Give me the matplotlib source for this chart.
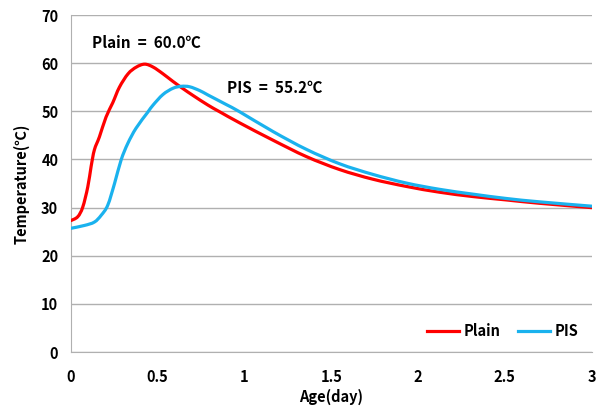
import numpy as np
import matplotlib.pyplot as plt
from matplotlib.path import Path
from matplotlib.patches import PathPatch

plt.rcParams['font.family'] = ['Noto Sans CJK KR', 'DejaVu Sans']
plt.rcParams['font.weight'] = 'bold'

# Plain concrete temperature history
plain_age = [0.0, 0.04, 0.069, 0.098, 0.117, 0.136, 0.165, 0.203, 0.242, 0.28,
             0.33, 0.378, 0.426, 0.474, 0.531, 0.589, 0.647, 0.704, 0.79, 0.858,
             0.973, 1.165, 1.357, 1.549, 1.74, 1.933, 2.124, 2.316, 2.508,
             2.70, 3.0]
plain_temp = [27.3, 28.1, 30.1, 34.3, 38.5, 42.0, 44.7, 48.8, 51.8, 55.0,
              57.8, 59.2, 59.8, 59.2, 57.8, 56.2, 54.7, 53.3, 51.3, 49.9,
              47.6, 44.0, 40.6, 37.9, 35.9, 34.4, 33.2, 32.3, 31.6,
              30.9, 30.0]

# PIS temperature history
pis_age = [0.0, 0.079, 0.136, 0.175, 0.213, 0.252, 0.29, 0.328, 0.376, 0.443,
           0.474, 0.531, 0.589, 0.637, 0.685, 0.743, 0.79, 0.896, 0.973,
           1.165, 1.357, 1.549, 1.74, 1.933, 2.124, 2.316, 2.508, 2.70, 3.0]
pis_temp = [25.7, 26.3, 27.0, 28.4, 30.5, 35.0, 39.9, 43.3, 46.5, 49.8,
            51.3, 53.5, 54.8, 55.2, 55.1, 54.3, 53.4, 51.4, 49.9,
            45.8, 42.1, 39.1, 36.9, 35.1, 33.8, 32.8, 31.9, 31.2, 30.3]

x_ticks = [0, 0.5, 1, 1.5, 2, 2.5, 3]
x_labels = ['0', '0.5', '1', '1.5', '2', '2.5', '3']
y_ticks = [0, 10, 20, 30, 40, 50, 60, 70]


def smooth_path(xs, ys):
    # Excel-style smoothed line: Catmull-Rom segments as cubic Bezier curves
    p = np.column_stack([xs, ys]).astype(float)
    verts = [p[0]]
    codes = [Path.MOVETO]
    n = len(p)
    for i in range(n - 1):
        p0 = p[i - 1] if i > 0 else p[i]
        p3 = p[i + 2] if i + 2 < n else p[i + 1]
        c1 = p[i] + (p[i + 1] - p0) / 6
        c2 = p[i + 1] - (p3 - p[i]) / 6
        verts += [c1, c2, p[i + 1]]
        codes += [Path.CURVE4] * 3
    return Path(verts, codes)


fig = plt.figure(figsize=(6.1, 4.07), dpi=100)
ax = fig.add_axes([0.116, 0.135, 0.854, 0.828])

for xs, ys, c, name in [(plain_age, plain_temp, '#ff0000', 'Plain'),
                        (pis_age, pis_temp, '#1ab2ee', 'PIS')]:
    ax.add_patch(PathPatch(smooth_path(xs, ys), facecolor='none', edgecolor=c,
                           lw=2.3, capstyle='round', zorder=3))
    ax.plot([], [], color=c, lw=2.3, label=name)

ax.set_xlim(0, 3)
ax.set_ylim(0, 70)
ax.set_xticks(x_ticks)
ax.set_xticklabels(x_labels)
ax.set_yticks(y_ticks)
ax.tick_params(length=0, labelsize=10.5)
ax.tick_params(axis='x', pad=12)
ax.tick_params(axis='y', pad=9)
ax.grid(axis='y', color='#b0b0b0', lw=1)
for s in ['top', 'right']:
    ax.spines[s].set_visible(False)
ax.spines['left'].set_color('#b0b0b0')
ax.spines['bottom'].set_color('#b0b0b0')

ax.set_xlabel('Age(day)', fontsize=10.5, fontweight='bold', labelpad=3)
ax.set_ylabel('Temperature(℃)', fontsize=10.5, fontweight='bold', labelpad=8)

ax.text(0.12, 64.2, 'Plain  =  60.0℃', fontsize=11, fontweight='bold', va='center')
ax.text(0.90, 54.9, 'PIS  =  55.2℃', fontsize=11, fontweight='bold', va='center')

ax.legend(loc='lower right', ncol=2, frameon=False, fontsize=10.5, handlelength=2.2,
          columnspacing=1.2, handletextpad=0.3, bbox_to_anchor=(1.0, 0.0))

fig.savefig('out.png', dpi=100)
